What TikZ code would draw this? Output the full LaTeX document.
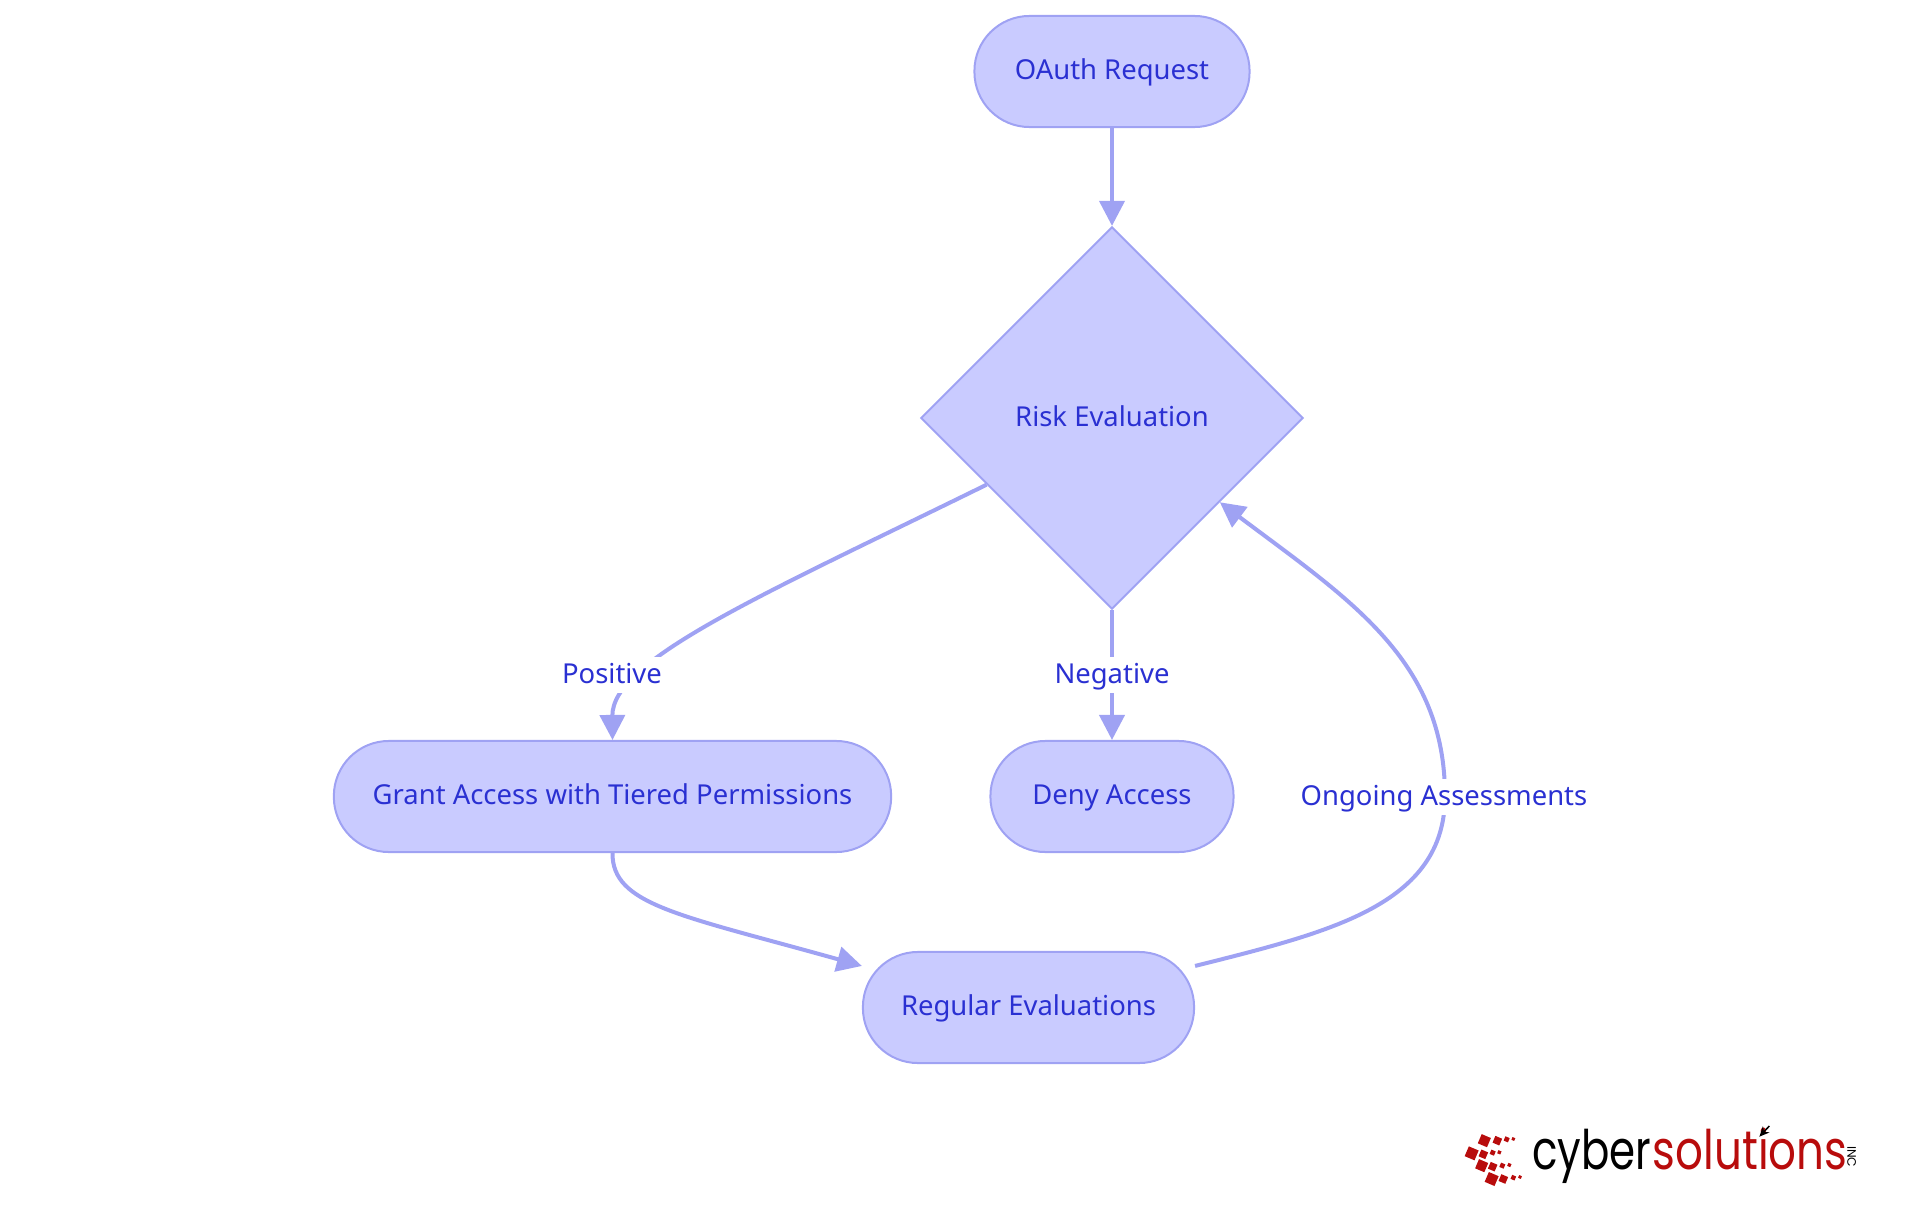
\documentclass[tikz,border=0pt]{standalone}
\usepackage{fontspec}
\usepackage{xcolor}
\usepackage{tikz}
\usetikzlibrary{arrows.meta, shapes.geometric}
\setmainfont{Noto Sans}
\newfontfamily\logofont{Poppins}
\definecolor{boxfill}{HTML}{C9CBFF}
\definecolor{boxline}{HTML}{9FA2F3}
\definecolor{boxtext}{HTML}{2A30D2}
\definecolor{logored}{HTML}{B80C0C}
\tikzset{
    labeltext/.style={text=boxtext, font=\fontsize{7.8}{9}\selectfont, text height=1.3ex, text depth=0.43ex},
    pill/.style={draw=boxline, fill=boxfill, line width=0.02cm, rounded corners=0.55cm,
        minimum height=1.11cm, inner sep=0pt, labeltext},
    risknode/.style={draw=boxline, fill=boxfill, line width=0.02cm, diamond, aspect=1,
        minimum size=3.82cm, inner sep=0pt, labeltext},
    edgelabel/.style={fill=white, inner sep=0.5pt, labeltext},
    flow/.style={draw=boxline, line width=0.04cm, -{Triangle[length=0.25cm,width=0.25cm]}}
}
\begin{document}
\begin{tikzpicture}[x=0.01cm, y=-0.01cm]
    \useasboundingbox (0,0) rectangle (1920,1215);
    % 1. Khoi
    \node[pill, minimum width=2.75cm] (request) at (1112,71.5) {OAuth Request};
    \node[risknode] (risk) at (1112,418) {Risk Evaluation};
    \node[pill, minimum width=5.57cm] (grant) at (612.5,796.5) {Grant Access with Tiered Permissions};
    \node[pill, minimum width=2.43cm] (deny) at (1112,796.5) {Deny Access};
    \node[pill, minimum width=3.31cm] (regular) at (1028.5,1007.5) {Regular Evaluations};

    % 2. Mui ten
    \draw[flow] (request.south) -- (risk.north);
    \draw[flow] (risk.208) .. controls (760,596) and (612,660) .. (grant.north);
    \draw[flow] (risk.south) -- (deny.north);
    \draw[flow] (grant.south) .. controls (612,905) and (680,915) .. (regular.166);
    \draw[flow] (regular.14) .. controls (1330,932) and (1445,905) .. (1445,796)
        .. controls (1445,660) and (1350,600) .. (risk.322);

    % 3. Nhan
    \node[edgelabel] (positive) at (612,675) {Positive};
    \node[edgelabel] (negative) at (1112,675) {Negative};
    \node[edgelabel] (ongoing) at (1444,797) {Ongoing Assessments};

    % 4. Logo
    \begin{scope}[shift={(1440,1100)}, x=0.01cm/3, y=-0.01cm/3]
        \foreach \x/\y/\s in {133/122/30, 172/122/22, 200/118/14, 220/117/9,
                              95/160/32, 130/163/22, 158/158/14, 178/157/10,
                              125/197/30, 158/200/22, 187/197/14, 208/195/10,
                              155/237/32, 190/237/22, 220/233/13, 240/231/9} {
            \fill[logored, shift={(\x,\y)}, rotate=-23] (-\s/2,-\s/2) rectangle (\s/2,\s/2);
        }
        \node[anchor=base west, inner sep=0pt, font=\logofont\fontsize{15.5}{18}\selectfont] (cyber) at (275,208) {\scalebox{0.77}[1]{cyber}};
        \node[anchor=base west, inner sep=0pt, text=logored, font=\logofont\fontsize{15.5}{18}\selectfont] (solutions) at (cyber.base east) {\scalebox{0.8}[1]{solutions}};
        \node[rotate=-90, inner sep=0pt, font=\logofont\fontsize{3.5}{4}\selectfont] (inc) at (1235,170) {INC};
        \draw[-{Stealth[length=0.1cm,width=0.09cm]}, line width=0.015cm] (988,78) -- (958,110);
    \end{scope}
\end{tikzpicture}
\end{document}
